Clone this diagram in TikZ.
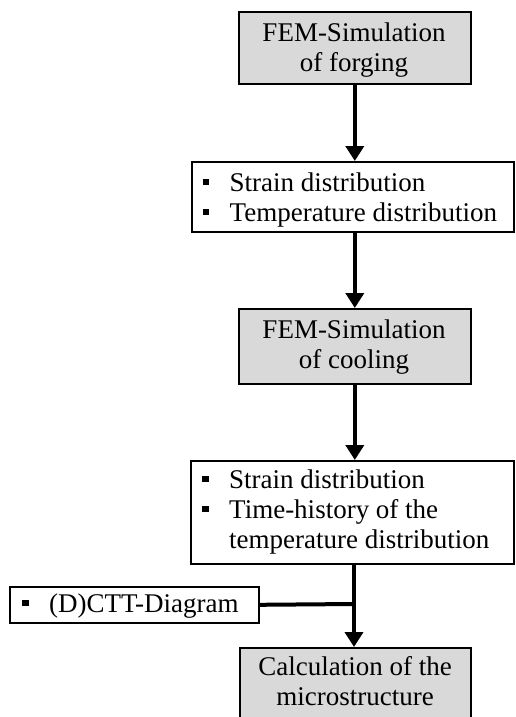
\documentclass[tikz,border=0pt]{standalone}
\usepackage{fontspec}
\setmainfont{Liberation Serif}
\usetikzlibrary{arrows.meta}
\newcommand{\bulletsq}{\rule[6pt]{6.5pt}{6.5pt}\hspace{20.5pt}}
\begin{document}
\begin{tikzpicture}[x=1pt,y=-1pt,
  box/.style={draw=black, line width=1.6pt, inner sep=0pt, anchor=north west},
  graybox/.style={box, fill=black!15},
  txt/.style={inner sep=0pt, font=\fontsize{27}{30}\selectfont},
  ctr/.style={txt, anchor=base},
  lft/.style={txt, anchor=base west},
  flow/.style={line width=4pt, -{Triangle[width=18pt,length=15pt]}},
  joinline/.style={line width=4pt}]
\useasboundingbox (0,0) rectangle (515,717);
\clip (0,0) rectangle (515,717);

% boxes
\node[graybox, minimum width=232pt, minimum height=72pt] (b1) at (238,11) {};
\node[box, minimum width=322pt, minimum height=70pt] (b2) at (191,161) {};
\node[graybox, minimum width=232pt, minimum height=75pt] (b3) at (238,308) {};
\node[box, minimum width=323pt, minimum height=103pt] (b4) at (190,460) {};
\node[box, minimum width=249pt, minimum height=36pt] (ctt) at (9,586) {};
\node[graybox, minimum width=231pt, minimum height=95pt] (b5) at (239,647) {};

% texts
\node[ctr] (t1a) at (354,42) {FEM-Simulation};
\node[ctr] (t1b) at (354,71) {of forging};
\node[lft] (t2a) at (202.5,191) {\bulletsq Strain distribution};
\node[lft] (t2b) at (202.5,221) {\bulletsq Temperature distribution};
\node[ctr] (t3a) at (354,338) {FEM-Simulation};
\node[ctr] (t3b) at (354,368) {of cooling};
\node[lft] (t4a) at (202,488) {\bulletsq Strain distribution};
\node[lft] (t4b) at (202,518) {\bulletsq Time-history of the};
\node[lft] (t4c) at (229,548) {temperature distribution};
\node[lft] (t5) at (22,612) {\bulletsq (D)CTT-Diagram};
\node[ctr] (t6a) at (355,675) {Calculation of the};
\node[ctr] (t6b) at (355,705) {microstructure};

% connectors
\coordinate (j) at (354,604);
\draw[flow] (b1.south) -- (b1.south |- b2.north);
\draw[flow] (b2.south -| b1.south) -- (b3.north);
\draw[flow] (b3.south) -- (b3.south |- b4.north);
\draw[flow] (b4.south -| j) -- (j |- b5.north);
\draw[joinline] (ctt.east) -- (j);
\end{tikzpicture}
\end{document}
